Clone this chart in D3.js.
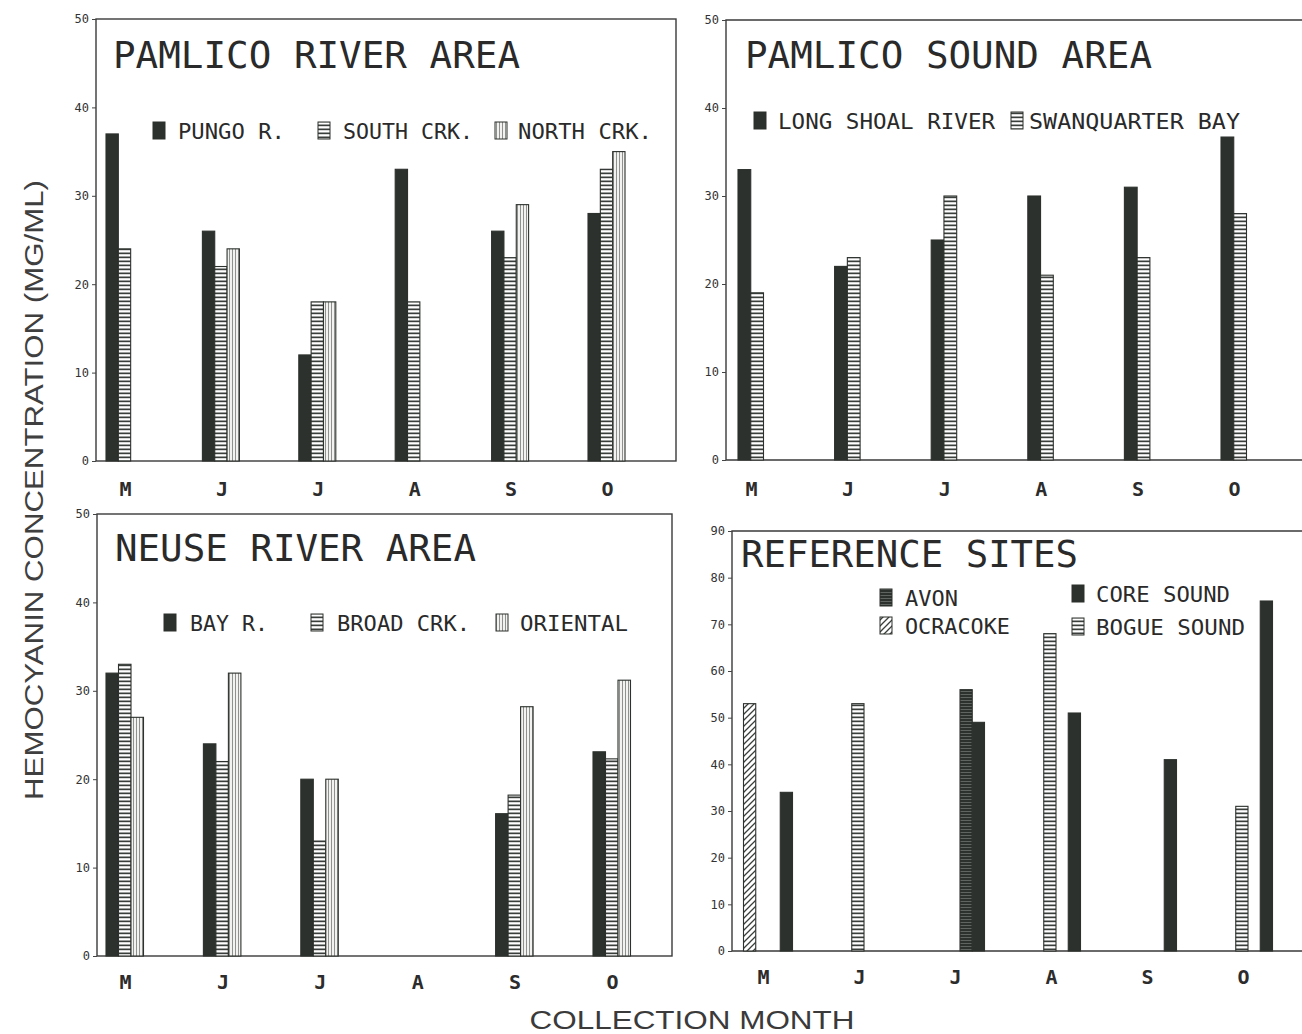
<!DOCTYPE html>
<html>
<head>
<meta charset="utf-8">
<script src="https://cdn.jsdelivr.net/npm/d3@7"></script>
<style>
  body { margin: 0; background: #fff; }
  svg { display: block; }
</style>
</head>
<body>
<div id="vis"></div>
<script>
// months on every x axis (keys are unique, labels are what is printed)
var monthKeys = ["May", "Jun", "Jul", "Aug", "Sep", "Oct"];
var monthLabels = ["M", "J", "J", "A", "S", "O"];

var ticks50 = [0, 10, 20, 30, 40, 50];
var ticks90 = [0, 10, 20, 30, 40, 50, 60, 70, 80, 90];

// Pamlico River area
var pungoR   = [37, 26, 12, 33, 26, 28];
var southCrk = [24, 22, 18, 18, 23, 33];
var northCrk = [null, 24, 18, null, 29, 35];

// Pamlico Sound area
var longShoal   = [33, 22, 25, 30, 31, 36.7];
var swanQuarter = [19, 23, 30, 21, 23, 28];

// Neuse River area
var bayR     = [32, 24, 20, null, 16.1, 23.1];
var broadCrk = [33, 22, 13, null, 18.2, 22.3];
var oriental = [27, 32, 20, null, 28.2, 31.2];

// reference sites
var avon       = [null, null, 56, null, null, null];
var ocracoke   = [53, null, null, null, null, null];
var coreSound  = [34, null, 49, 51, 41, 75];
var bogueSound = [null, 53, null, 68, null, 31];

var ink = "#2c312d";

var panels = [
  {title: "PAMLICO RIVER AREA", left: 96, right: 676, top: 19, bottom: 461, yTicks: ticks50,
   xRange: [125, 607], slotRange: [-19, 18], titleX: 113, titleY: 68, titleLen: 407, closed: true, labelY: 496,
   series: [
     {name: "PUNGO R.", values: pungoR, fill: "solid", lx: 153, tx: 178, tl: 107, ly: 131},
     {name: "SOUTH CRK.", values: southCrk, fill: "hl", lx: 318, tx: 343, tl: 130, ly: 131},
     {name: "NORTH CRK.", values: northCrk, fill: "vl", lx: 495, tx: 518, tl: 134, ly: 131}
   ]},
  {title: "PAMLICO SOUND AREA", left: 726, right: 1310, top: 20, bottom: 460, yTicks: ticks50,
   xRange: [751, 1234], slotRange: [-13, 12.5], titleX: 745, titleY: 68, titleLen: 407, closed: false, labelY: 496,
   series: [
     {name: "LONG SHOAL RIVER", values: longShoal, fill: "solid", lx: 754, tx: 778, tl: 217, ly: 121},
     {name: "SWANQUARTER BAY", values: swanQuarter, fill: "hl", lx: 1011, tx: 1029, tl: 211, ly: 121}
   ]},
  {title: "NEUSE RIVER AREA", left: 97, right: 672, top: 514, bottom: 956, yTicks: ticks50,
   xRange: [125, 612], slotRange: [-19, 18.5], titleX: 115, titleY: 561, titleLen: 361, closed: true, labelY: 989,
   series: [
     {name: "BAY R.", values: bayR, fill: "solid", lx: 164, tx: 190, tl: 78, ly: 623},
     {name: "BROAD CRK.", values: broadCrk, fill: "hl", lx: 311, tx: 337, tl: 133, ly: 623},
     {name: "ORIENTAL", values: oriental, fill: "vl", lx: 496, tx: 520, tl: 108, ly: 623}
   ]},
  {title: "REFERENCE SITES", left: 732, right: 1310, top: 531, bottom: 951, yTicks: ticks90,
   xRange: [763, 1243], slotRange: [-19.5, 29.5], titleX: 741, titleY: 567, titleLen: 337, closed: false, labelY: 984,
   slotOrder: ["OCRACOKE", "BOGUE SOUND", "AVON", "CORE SOUND"],
   series: [
     {name: "AVON", values: avon, fill: "avon", lx: 880, tx: 905, tl: 53, ly: 598},
     {name: "OCRACOKE", values: ocracoke, fill: "diag", lx: 880, tx: 905, tl: 105, ly: 626},
     {name: "CORE SOUND", values: coreSound, fill: "solid", lx: 1072, tx: 1096, tl: 134, ly: 594},
     {name: "BOGUE SOUND", values: bogueSound, fill: "hl", lx: 1072, tx: 1096, tl: 149, ly: 627}
   ]}
];

var svg = d3.select("#vis").append("svg")
    .attr("width", 1302)
    .attr("height", 1034);

svg.append("rect").attr("width", 1302).attr("height", 1034).attr("fill", "#fff");

// fill patterns
var defs = svg.append("defs");

var hl = defs.append("pattern").attr("id", "hl").attr("patternUnits", "userSpaceOnUse")
    .attr("width", 4).attr("height", 4);
hl.append("rect").attr("width", 4).attr("height", 4).attr("fill", "#fff");
hl.append("rect").attr("y", 0.5).attr("width", 4).attr("height", 1.7).attr("fill", "#3a3f3b");

var vl = defs.append("pattern").attr("id", "vl").attr("patternUnits", "userSpaceOnUse")
    .attr("width", 3).attr("height", 3);
vl.append("rect").attr("width", 3).attr("height", 3).attr("fill", "#f2f2f0");
vl.append("rect").attr("x", 1).attr("width", 1).attr("height", 3).attr("fill", "#8e918e");

var dg = defs.append("pattern").attr("id", "diag").attr("patternUnits", "userSpaceOnUse")
    .attr("width", 6).attr("height", 6);
dg.append("rect").attr("width", 6).attr("height", 6).attr("fill", "#fff");
dg.append("path").attr("d", "M0,6L6,0M-1,1L1,-1M5,7L7,5")
    .attr("stroke", "#3a3f3b").attr("stroke-width", 1.3);

var av = defs.append("pattern").attr("id", "avon").attr("patternUnits", "userSpaceOnUse")
    .attr("width", 3).attr("height", 3);
av.append("rect").attr("width", 3).attr("height", 3).attr("fill", ink);
av.append("rect").attr("y", 1).attr("width", 3).attr("height", 0.8).attr("fill", "#6d716d");

function fillOf(f) {
    return f === "solid" ? ink : "url(#" + f + ")";
}

var mono = "'DejaVu Sans Mono', 'Liberation Mono', monospace";

panels.forEach(function (p) {
    var g = svg.append("g");

    var x = d3.scalePoint().domain(monthKeys).range(p.xRange);
    var y = d3.scaleLinear().domain([0, d3.max(p.yTicks)]).range([p.bottom, p.top]);

    var order = p.slotOrder || p.series.map(d => d.name);
    var sub = d3.scaleBand().domain(order).range(p.slotRange);

    // frame
    if (p.closed) {
        g.append("rect")
            .attr("x", p.left).attr("y", p.top)
            .attr("width", p.right - p.left).attr("height", p.bottom - p.top)
            .attr("fill", "none").attr("stroke", "#3a3a3a").attr("stroke-width", 1.4);
    } else {
        g.append("path")
            .attr("d", "M" + p.right + "," + p.top + "H" + p.left + "V" + p.bottom + "H" + p.right)
            .attr("fill", "none").attr("stroke", "#3a3a3a").attr("stroke-width", 1.4);
    }

    // bars
    p.series.forEach(function (s) {
        var rows = monthKeys.map((m, i) => ({month: m, value: s.values[i]}))
            .filter(d => d.value != null);
        g.append("g").selectAll("rect")
            .data(rows)
            .join("rect")
              .attr("x", d => x(d.month) + sub(s.name))
              .attr("y", d => y(d.value))
              .attr("width", sub.bandwidth())
              .attr("height", d => y(0) - y(d.value))
              .attr("fill", fillOf(s.fill))
              .attr("stroke", ink)
              .attr("stroke-width", 1.1);
    });

    // y axis
    g.append("g")
        .attr("transform", "translate(" + p.left + ",0)")
        .call(d3.axisLeft(y).tickValues(p.yTicks).tickSize(4).tickSizeOuter(0).tickPadding(3))
        .call(a => a.select(".domain").remove())
        .call(a => a.selectAll("line").attr("stroke", "#444"))
        .call(a => a.selectAll("text")
            .attr("font-family", mono).attr("font-size", 12).attr("fill", "#333"));

    // x axis
    g.append("g")
        .attr("transform", "translate(0," + p.bottom + ")")
        .call(d3.axisBottom(x).tickSize(0).tickPadding(0)
            .tickFormat((d, i) => monthLabels[i]))
        .call(a => a.select(".domain").remove())
        .call(a => a.selectAll("text")
            .attr("dy", null)
            .attr("y", p.labelY - p.bottom)
            .attr("font-family", mono).attr("font-size", 20).attr("font-weight", "bold")
            .attr("fill", "#2c2c2c"));

    // title
    g.append("text")
        .attr("x", p.titleX).attr("y", p.titleY)
        .attr("textLength", p.titleLen).attr("lengthAdjust", "spacingAndGlyphs")
        .attr("font-family", mono).attr("font-size", 37)
        .attr("fill", "#2a2a2a")
        .text(p.title);

    // legend
    var lg = g.append("g").selectAll("g")
        .data(p.series)
        .join("g");

    lg.append("rect")
        .attr("x", d => d.lx).attr("y", d => d.ly - 9)
        .attr("width", 12).attr("height", 17)
        .attr("fill", d => fillOf(d.fill))
        .attr("stroke", ink).attr("stroke-width", 1);

    lg.append("text")
        .attr("x", d => d.tx).attr("y", d => d.ly + 8)
        .attr("textLength", d => d.tl).attr("lengthAdjust", "spacingAndGlyphs")
        .attr("font-family", mono).attr("font-size", 22)
        .attr("fill", "#2a2a2a")
        .text(d => d.name);
});

// shared axis titles
svg.append("text")
    .attr("transform", "translate(43,490) rotate(-90)")
    .attr("text-anchor", "middle")
    .attr("textLength", 620).attr("lengthAdjust", "spacingAndGlyphs")
    .attr("font-family", "'Liberation Sans', Arial, sans-serif")
    .attr("font-size", 25)
    .attr("fill", "#3f3f3f")
    .text("HEMOCYANIN CONCENTRATION (MG/ML)");

svg.append("text")
    .attr("x", 692).attr("y", 1029)
    .attr("text-anchor", "middle")
    .attr("textLength", 325).attr("lengthAdjust", "spacingAndGlyphs")
    .attr("font-family", "'Liberation Sans', Arial, sans-serif")
    .attr("font-size", 25)
    .attr("fill", "#3a3a3a")
    .text("COLLECTION MONTH");
</script>
</body>
</html>
